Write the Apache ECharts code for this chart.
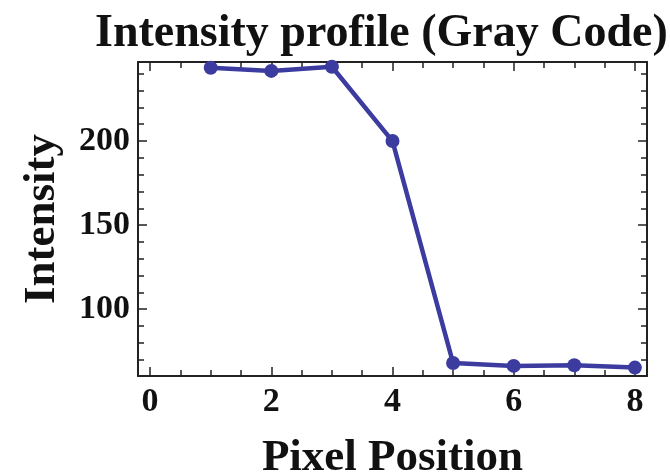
<!DOCTYPE html>
<html>
<head>
<meta charset="utf-8">
<script src="https://cdn.jsdelivr.net/npm/echarts@6/dist/echarts.min.js"></script>
<style>html,body{margin:0;padding:0;background:#fff}#c{width:670px;height:473px}</style>
</head>
<body>
<div id="c"></div>
<script>
const titleText = 'Intensity profile (Gray Code)';
const xName = 'Pixel Position';
const yName = 'Intensity';
const pixelPositions = [1, 2, 3, 4, 5, 6, 7, 8];
const intensities = [243.6, 241.7, 244.2, 200, 68.0, 66.3, 66.7, 65.3];
const xMajorTicks = [0, 2, 4, 6, 8];
const xMinorTicks = [0.5, 1, 1.5, 2.5, 3, 3.5, 4.5, 5, 5.5, 6.5, 7, 7.5];
const yMajorTicks = [100, 150, 200];
const yMinorTicks = [70, 80, 90, 110, 120, 130, 140, 160, 170, 180, 190, 210, 220, 230, 240];
const xRange = [-0.2, 8.2];
const yRange = [60.3, 247];

const FONT = '"Liberation Serif","Times New Roman",serif';
const lineColor = '#3c3ca0';
const frameColor = '#222';

function xAx(pos, ticks, len, showLine, showLabel, extra) {
  return Object.assign({
    type: 'value', position: pos, min: xRange[0], max: xRange[1],
    axisLine: {show: showLine, onZero: false, lineStyle: {color: frameColor, width: 2}},
    axisTick: {show: true, inside: true, length: len, customValues: ticks, lineStyle: {color: frameColor, width: 1.5}},
    axisLabel: showLabel ? {show: true, customValues: ticks, fontFamily: FONT, fontWeight: 'bold', fontSize: 34, color: '#111', margin: 9} : {show: false},
    splitLine: {show: false}
  }, extra || {});
}
function yAx(pos, ticks, len, showLine, showLabel, extra) {
  return Object.assign({
    type: 'value', position: pos, min: yRange[0], max: yRange[1],
    axisLine: {show: showLine, onZero: false, lineStyle: {color: frameColor, width: 2}},
    axisTick: {show: true, inside: true, length: len, customValues: ticks, lineStyle: {color: frameColor, width: 1.5}},
    axisLabel: showLabel ? {show: true, customValues: ticks, fontFamily: FONT, fontWeight: 'bold', fontSize: 34, color: '#111', margin: 8} : {show: false},
    splitLine: {show: false}
  }, extra || {});
}

const chart = echarts.init(document.getElementById('c'), null, {renderer: 'canvas'});
chart.setOption({
  backgroundColor: '#fff',
  animation: false,
  title: {
    text: titleText, left: 90, top: 6,
    textStyle: {fontFamily: FONT, fontWeight: 'bold', fontSize: 46, color: '#111'}
  },
  grid: {left: 138, top: 62, right: 23, bottom: 97, containLabel: false, outerBoundsMode: 'none'},
  xAxis: [
    xAx('bottom', xMajorTicks, 9, true, true, {
      name: xName, nameLocation: 'middle', nameGap: 82, nameMoveOverlap: false,
      nameTextStyle: {fontFamily: FONT, fontWeight: 'bold', fontSize: 45, color: '#111', verticalAlign: 'middle'}
    }),
    xAx('bottom', xMinorTicks, 6, false, false),
    xAx('top', xMajorTicks, 9, true, false),
    xAx('top', xMinorTicks, 6, false, false)
  ],
  yAxis: [
    yAx('left', yMajorTicks, 9, true, true, {
      name: yName, nameLocation: 'middle', nameGap: 96, nameRotate: 90, nameMoveOverlap: false,
      nameTextStyle: {fontFamily: FONT, fontWeight: 'bold', fontSize: 45, color: '#111', verticalAlign: 'middle'}
    }),
    yAx('left', yMinorTicks, 6, false, false),
    yAx('right', yMajorTicks, 9, true, false),
    yAx('right', yMinorTicks, 6, false, false)
  ],
  series: [{
    type: 'line',
    xAxisIndex: 0, yAxisIndex: 0,
    data: pixelPositions.map((x, i) => [x, intensities[i]]),
    symbol: 'circle', symbolSize: 14,
    lineStyle: {color: lineColor, width: 4.5},
    itemStyle: {color: lineColor},
    clip: true,
    z: 1
  }]
});
</script>
</body>
</html>
